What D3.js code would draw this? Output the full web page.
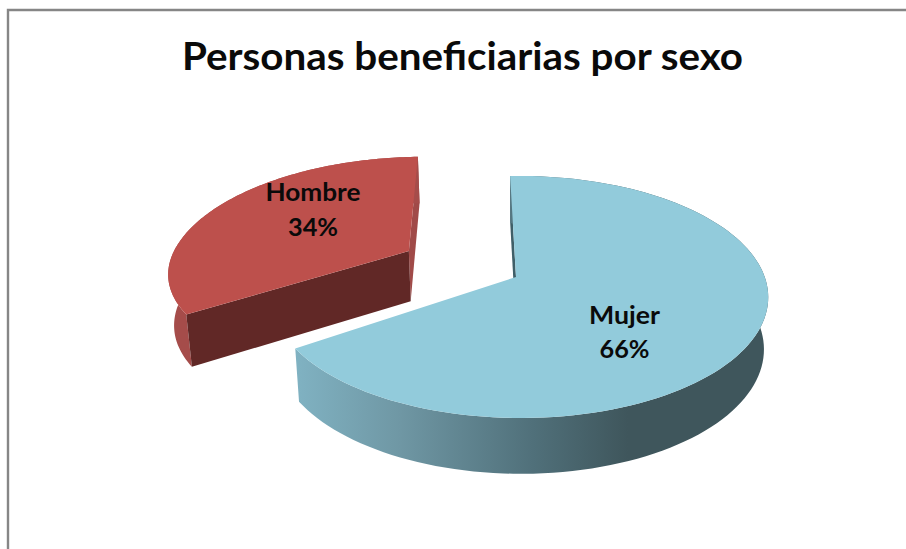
<!DOCTYPE html>
<html>
<head>
<meta charset="utf-8">
<script src="https://cdn.jsdelivr.net/npm/d3@7"></script>
<style>
  html, body { margin: 0; padding: 0; background: #fff; overflow: hidden; }
  text { font-family: Lato, "Open Sans", sans-serif; font-weight: 700; fill: #0a0a0a; }
</style>
</head>
<body>
<div id="chart"></div>
<script>
  var categories = ["Mujer", "Hombre"];
  var percents = [66, 34];
  var titleText = "Personas beneficiarias por sexo";

  var width = 906, height = 549;

  var svg = d3.select("#chart").append("svg")
    .attr("width", width)
    .attr("height", height)
    .style("display", "block");

  // frame only shows on the top and left, the picture is cropped on the others
  svg.append("path")
    .attr("d", "M8,549V10H906")
    .attr("fill", "none")
    .attr("stroke", "#868686")
    .attr("stroke-width", 2.4);

  svg.append("text")
    .attr("x", 462.5)
    .attr("y", 70)
    .attr("text-anchor", "middle")
    .attr("font-size", 39)
    .attr("textLength", 561)
    .attr("lengthAdjust", "spacingAndGlyphs")
    .text(titleText);

  // perspective of the disc: u goes right, v goes towards the viewer
  var apex = { x: 516, y: 277 },
    ry = 117.7, k = 0.165, depth = 51, shrink = 0.983;

  // the two slices don't share quite the same projection in the original
  var rxs = [245, 250], skew = [0.015, 0], radiusU = [1, 0.975], nearV = [1, 0.95];

  function project(u, v, lower, i) {
    var w = 1 - k * v - skew[i] * u;
    var s = lower ? shrink : 1;
    return [
      apex.x + s * rxs[i] * u / w,
      apex.y + ry * v / w + (lower ? depth / Math.sqrt(w) : 0)
    ];
  }

  var start = -1.6 * Math.PI / 180;
  var pie = d3.pie().sort(null).startAngle(start).endAngle(start + 2 * Math.PI);
  var slices = pie(percents);

  var explode = [0, 0.5];
  var topFill = ["#92cbdb", "#bd504c"];
  var line = d3.line();

  var defs = svg.append("defs");
  var wallGrad = defs.append("linearGradient")
    .attr("id", "wall-mujer")
    .attr("gradientUnits", "userSpaceOnUse")
    .attr("x1", 296).attr("x2", 770)
    .attr("y1", 0).attr("y2", 0);
  [[0, "#80b2c2"], [0.22, "#6f97a4"], [0.5, "#50707a"], [0.7, "#3f565c"], [1, "#3f565c"]].forEach(function(s) {
    wallGrad.append("stop").attr("offset", s[0]).attr("stop-color", s[1]);
  });
  var wallFill = ["url(#wall-mujer)", "#a54c4a"];

  function arcPoint(a, off, lower, i) {
    var du = radiusU[i] * Math.sin(a), dv = -Math.cos(a);
    if (dv > 0) dv *= nearV[i];
    return project(off.u + du, off.v + dv, lower, i);
  }

  slices.forEach(function(d, i) {
    var mid = (d.startAngle + d.endAngle) / 2;
    var off = { u: explode[i] * Math.sin(mid), v: -explode[i] * Math.cos(mid) };
    var angles = d3.range(0, 121).map(function(t) {
      return d.startAngle + (d.endAngle - d.startAngle) * t / 120;
    });
    var upper = angles.map(function(a) { return arcPoint(a, off, false, i); });
    var under = angles.map(function(a) { return arcPoint(a, off, true, i); });
    var centreTop = project(off.u, off.v, false, i);
    var centreLow = project(off.u, off.v, true, i);
    var g = svg.append("g").attr("class", "slice-" + categories[i]);

    // far radial face
    var farA = i === 0 ? d.startAngle : d.endAngle;
    g.append("path")
      .attr("d", line([centreTop, arcPoint(farA, off, false, i), arcPoint(farA, off, true, i), centreLow]) + "Z")
      .attr("fill", i === 0 ? "#3f5f68" : "#a04a48");

    // outer wall
    g.append("path")
      .attr("d", line(upper.concat(under.slice().reverse())) + "Z")
      .attr("fill", wallFill[i]);

    // near radial face, only the exploded slice shows it
    if (i === 1) {
      var nearA = d.startAngle;
      g.append("path")
        .attr("d", line([centreTop, arcPoint(nearA, off, false, i), arcPoint(nearA, off, true, i), centreLow]) + "Z")
        .attr("fill", "#612826");
    }

    // top of the slice
    g.append("path")
      .attr("d", line([centreTop].concat(upper)) + "Z")
      .attr("fill", topFill[i]);
  });

  // data labels: name then percent, widths forced to the original's narrower face
  var labelX = [624.5, 313];
  var nameY = [324, 201], nameW = [71, 95];
  var pctY = [358, 236], pctW = [50, 50];
  slices.forEach(function(d, i) {
    svg.append("text")
      .attr("x", labelX[i])
      .attr("y", nameY[i])
      .attr("text-anchor", "middle")
      .attr("font-size", 24)
      .attr("textLength", nameW[i])
      .attr("lengthAdjust", "spacingAndGlyphs")
      .text(categories[i]);
    svg.append("text")
      .attr("x", labelX[i])
      .attr("y", pctY[i])
      .attr("text-anchor", "middle")
      .attr("font-size", 24)
      .attr("textLength", pctW[i])
      .attr("lengthAdjust", "spacingAndGlyphs")
      .text(d.data + "%");
  });
</script>
</body>
</html>
